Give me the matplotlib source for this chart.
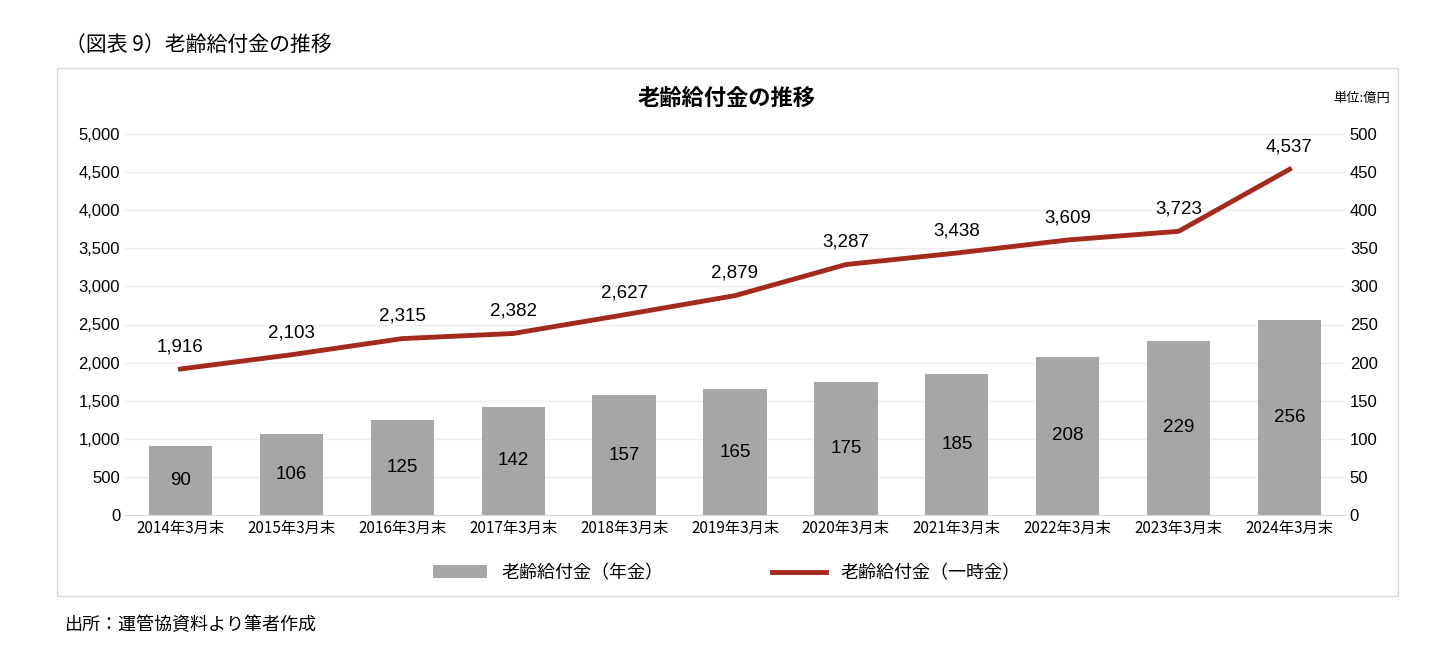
import matplotlib
matplotlib.use("Agg")
import matplotlib.pyplot as plt
from matplotlib.patches import Rectangle

plt.rcParams["font.family"] = ["Noto Sans CJK JP"]

categories = ["2014年3月末","2015年3月末","2016年3月末","2017年3月末","2018年3月末","2019年3月末",
              "2020年3月末","2021年3月末","2022年3月末","2023年3月末","2024年3月末"]
pension = [90,106,125,142,157,165,175,185,208,229,256]
lump_sum = [1916,2103,2315,2382,2627,2879,3287,3438,3609,3723,4537]

W, H = 1448, 662
fig = plt.figure(figsize=(W/100, H/100), dpi=100)
fig.patches.append(Rectangle((57/W, 1-596/H), (1398-57)/W, (596-68)/H, transform=fig.transFigure,
                             fill=False, edgecolor="#d9d9d9", lw=1))
fig.text(65/W, 1-45/H, "（図表 9）老齢給付金の推移", fontsize=15, va="center", ha="left")
fig.text(65/W, 1-625/H, "出所：運管協資料より筆者作成", fontsize=13, va="center", ha="left")
fig.text(727/W, 1-98/H, "老齢給付金の推移", fontsize=16, fontweight="bold", va="center", ha="center")
fig.text(1390/W, 1-98/H, "単位:億円", fontsize=9.5, va="center", ha="right")

ax = fig.add_axes([125/W, 1-515/H, (1345-125)/W, (515-134)/H])
ax2 = ax.twinx()
x = list(range(len(categories)))

ax2.bar(x, pension, width=0.57, color="#a6a6a6", zorder=2, label="老齢給付金（年金）")
for i, v in enumerate(pension):
    ax2.text(i, v/2, str(v), ha="center", va="center", fontsize=13.5, family="Liberation Sans")
ax2.set_ylim(0, 500)
ax2.set_yticks(range(0, 501, 50))

ax.set_zorder(ax2.get_zorder()+1)
ax.patch.set_visible(False)
ax.plot(x, lump_sum, color="#a52a1e", lw=3.5, zorder=3, label="老齢給付金（一時金）")
for i, v in enumerate(lump_sum):
    ax.text(i, v+180, f"{v:,}", ha="center", va="bottom", fontsize=13.5, family="Liberation Sans")
ax.set_ylim(0, 5000)
ax.set_yticks(range(0, 5001, 500))
ax.set_yticklabels([f"{t:,}" for t in range(0, 5001, 500)])
ax.set_xlim(-0.5, len(categories)-0.5)
ax.set_xticks(x)
ax.set_xticklabels(categories, fontsize=11)
for a in (ax, ax2):
    a.tick_params(length=0, labelsize=11)
    for s in a.spines.values():
        s.set_visible(False)
for lab in ax.get_yticklabels()+ax2.get_yticklabels():
    lab.set_family("Liberation Sans"); lab.set_fontsize(12)
ax2.grid(axis="y", color="#eeeeee", lw=1, zorder=0)
ax2.set_axisbelow(True)
ax.spines["bottom"].set_visible(True); ax.spines["bottom"].set_color("#d9d9d9")

h1, l1 = ax2.get_legend_handles_labels()
h2, l2 = ax.get_legend_handles_labels()
fig.legend(h1+h2, l1+l2, loc="center", bbox_to_anchor=(727/W, 1-573/H), ncol=2, frameon=False,
           fontsize=13, columnspacing=6, handlelength=3)

fig.savefig("out.png", dpi=100)
